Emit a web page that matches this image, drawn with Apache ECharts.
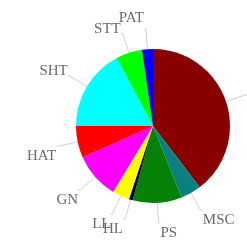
<!DOCTYPE html>
<html>
<head>
<meta charset="utf-8">
<script src="https://cdn.jsdelivr.net/npm/echarts@6/dist/echarts.min.js"></script>
<style>
  html, body { margin: 0; padding: 0; background: #fff; }
  #chart { width: 247px; height: 248px; }
</style>
</head>
<body>
<div id="chart"></div>
<script>
// slices, clockwise from 12 o'clock (percent)
var names  = ['OTH', 'MSC', 'PS', 'HL', 'LL', 'GN', 'HAT', 'SHT', 'STT', 'PAT'];
var values = [39.6, 4.3, 10.3, 0.8, 3.6, 9.7, 6.6, 17.2, 5.5, 2.3];
var colors = ['#880000', '#0a8080', '#058205', '#000000', '#ffff00',
              '#ff00ff', '#ff0000', '#00ffff', '#00ff00', '#0000ff'];

var chart = echarts.init(document.getElementById('chart'));

var data = names.map(function (n, i) {
    return { name: n, value: values[i], itemStyle: { color: colors[i] } };
});

chart.setOption({
    animation: false,
    series: [{
        type: 'pie',
        center: [153, 126],
        radius: 77,
        startAngle: 90,
        clockwise: true,
        avoidLabelOverlap: false,
        data: data,
        label: {
            show: true,
            position: 'outside',
            color: '#6a6a6a',
            fontFamily: 'Liberation Serif',
            fontSize: 15,
            distanceToLabelLine: 0
        },
        labelLine: {
            show: true,
            length: 20,
            length2: 2,
            lineStyle: { color: '#d0d0d0', width: 1 }
        },
        // text sits a little past the line end, like the original plot
        labelLayout: function (p) {
            var r = p.labelRect;
            var cx = r.x + r.width / 2, cy = r.y + r.height / 2;
            var dy = cy > 126 ? 10 : (Math.abs(cx - 153) < 30 ? -11 : -5);
            return { hideOverlap: false, dy: dy };
        },
        itemStyle: { borderWidth: 0 }
    }]
});
</script>
</body>
</html>
